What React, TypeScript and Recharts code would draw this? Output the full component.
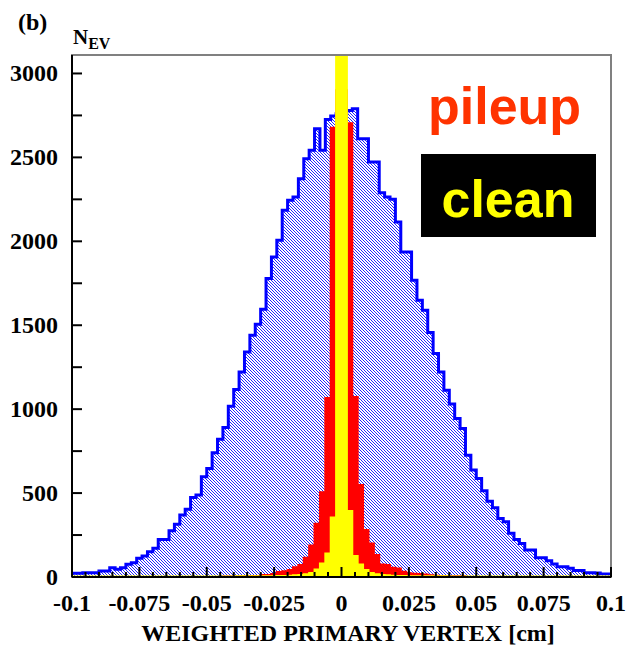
import React from 'react';
import { ComposedChart, Area, XAxis, YAxis, ReferenceArea } from 'recharts';

// histogram binning: 100 bins of 0.002 cm from -0.1 to 0.1
const BIN_LO = -0.1;
const BIN_W = 0.002;
const Y_MAX = 3110;

// all events (blue, hatched)
const allCounts = [
  22, 22, 26, 26, 26, 36, 36, 55, 46, 55,
  76, 85, 111, 125, 151, 171, 224, 224, 276, 314,
  369, 403, 474, 488, 597, 647, 740, 820, 891, 1018,
  1117, 1222, 1341, 1440, 1506, 1595, 1778, 1907, 2006, 2185,
  2244, 2264, 2373, 2492, 2542, 2671, 2542, 2726, 2746, 2760,
  2770, 2780, 2790, 2611, 2611, 2472, 2472, 2290, 2264, 2250,
  2115, 1936, 1936, 1768, 1649, 1589, 1456, 1331, 1222, 1113,
  1030, 944, 885, 726, 637, 587, 514, 452, 413, 349,
  329, 260, 224, 200, 161, 161, 115, 115, 97, 77,
  61, 61, 52, 38, 38, 26, 26, 24, 18, 18,
];

// pileup events (red)
const pileupCounts = [
  0, 0, 0, 0, 0, 0, 0, 0, 0, 0,
  0, 0, 0, 0, 0, 0, 0, 0, 0, 0,
  0, 0, 0, 0, 0, 0, 0, 0, 3, 3,
  3, 4, 4, 6, 6, 12, 12, 18, 30, 34,
  42, 58, 72, 115, 187, 317, 505, 1066, 2677, 2900,
  2900, 2704, 1073, 548, 280, 200, 131, 75, 71, 55,
  50, 32, 22, 20, 18, 15, 10, 8, 4, 4,
  4, 4, 4, 0, 0, 0, 0, 0, 0, 0,
  0, 0, 0, 0, 0, 0, 0, 0, 0, 0,
  0, 0, 0, 0, 0, 0, 0, 0, 0, 0,
];

// clean events (yellow)
const cleanCounts = [
  3, 3, 3, 3, 3, 3, 3, 3, 3, 3,
  3, 3, 3, 3, 3, 3, 3, 3, 3, 3,
  3, 3, 3, 3, 3, 3, 3, 3, 3, 3,
  4, 4, 4, 4, 4, 5, 5, 5, 6, 6,
  8, 10, 12, 16, 24, 45, 80, 140, 355, 3400,
  3400, 393, 125, 75, 42, 24, 16, 12, 10, 8,
  6, 6, 5, 5, 5, 4, 4, 4, 4, 4,
  3, 3, 3, 3, 3, 3, 3, 3, 3, 3,
  3, 3, 3, 3, 3, 3, 3, 3, 3, 3,
  3, 3, 3, 3, 3, 3, 3, 3, 3, 3,
];

const xMajor = [-0.1, -0.075, -0.05, -0.025, 0, 0.025, 0.05, 0.075, 0.1];
const xLabels = ['-0.1', '-0.075', '-0.05', '-0.025', '0', '0.025', '0.05', '0.075', '0.1'];
const yMajor = [0, 500, 1000, 1500, 2000, 2500, 3000];

const xTicks = Array.from({ length: 41 }, (_, i) => +(-0.1 + i * 0.005).toFixed(3));
const yTicks = Array.from({ length: 13 }, (_, i) => i * 250);

// step points at bin edges, last edge repeats the last bin
const data = allCounts.map((v, k) => ({
  x: +(BIN_LO + k * BIN_W).toFixed(4),
  all: v,
  pileup: pileupCounts[k],
  clean: cleanCounts[k],
}));
data.push({ x: 0.1, all: allCounts[99], pileup: pileupCounts[99], clean: cleanCounts[99] });

const SERIF = '"Liberation Serif", "Times New Roman", serif';
const SANS = '"Liberation Sans", Arial, sans-serif';

const XTick = (props: any) => {
  const { x, y, payload } = props;
  const idx = xMajor.findIndex((m) => Math.abs(m - payload.value) < 1e-9);
  const major = idx >= 0;
  return (
    <g>
      <line x1={x} x2={x} y1={y} y2={y - (major ? 10 : 5)} stroke="#000" strokeWidth={2} />
      {major && (
        <text x={x} y={y + 34} textAnchor="middle" fontFamily={SERIF} fontWeight="bold" fontSize={24} fill="#000">
          {xLabels[idx]}
        </text>
      )}
    </g>
  );
};

const YTick = (props: any) => {
  const { x, y, payload } = props;
  const major = yMajor.includes(payload.value);
  return (
    <g>
      <line x1={x} x2={x + 10} y1={y} y2={y} stroke="#000" strokeWidth={2} />
      {major && (
        <text x={x - 14} y={y + 8} textAnchor="end" fontFamily={SERIF} fontWeight="bold" fontSize={24} fill="#000">
          {payload.value}
        </text>
      )}
    </g>
  );
};

export default function App() {
  return (
    <div style={{ position: 'absolute', left: 0, top: 0, width: 627, height: 649, background: '#fff' }}>
      <svg width={0} height={0} style={{ position: 'absolute' }}>
        <defs>
          {/* pixel diagonal hatch, top-left to bottom-right */}
          <pattern id="hatch" patternUnits="userSpaceOnUse" x={0} y={0} width={3} height={3}>
            <rect width={3} height={3} fill="#fff" />
            <path d="M0,0h1v1h-1z M1,1h1v1h-1z M2,2h1v1h-1z" fill="#2424ff" shapeRendering="crispEdges" />
          </pattern>
        </defs>
      </svg>
      <ComposedChart width={627} height={649} data={data} margin={{ top: 55, right: 16, bottom: 0, left: 0 }}>
        <Area
          type="stepAfter"
          dataKey="all"
          stroke="#0000ff"
          strokeWidth={3}
          fill="url(#hatch)"
          fillOpacity={1}
          dot={false}
          activeDot={false}
          isAnimationActive={false}
        />
        <Area
          type="stepAfter"
          dataKey="pileup"
          stroke="#ff0000"
          strokeWidth={2}
          fill="#ff0000"
          fillOpacity={1}
          dot={false}
          activeDot={false}
          isAnimationActive={false}
        />
        <Area
          type="stepAfter"
          dataKey="clean"
          stroke="#ffff00"
          strokeWidth={2}
          fill="#ffff00"
          fillOpacity={1}
          dot={false}
          activeDot={false}
          isAnimationActive={false}
        />
        <ReferenceArea x1={-0.1} x2={0.1} y1={0} y2={Y_MAX} fill="none" fillOpacity={0} stroke="#808080" strokeWidth={2} />
        <XAxis
          dataKey="x"
          type="number"
          domain={[-0.1, 0.1]}
          ticks={xTicks}
          interval={0}
          height={72}
          tickSize={0}
          tickMargin={0}
          tickLine={false}
          axisLine={{ stroke: '#000', strokeWidth: 2 }}
          tick={<XTick />}
          allowDataOverflow
        />
        <YAxis
          type="number"
          domain={[0, Y_MAX]}
          ticks={yTicks}
          interval={0}
          width={72}
          tickSize={0}
          tickMargin={0}
          tickLine={false}
          axisLine={{ stroke: '#000', strokeWidth: 2 }}
          tick={<YTick />}
          allowDataOverflow
        />
      </ComposedChart>
      <svg width={627} height={649} style={{ position: 'absolute', left: 0, top: 0, pointerEvents: 'none' }}>
        <text x={18} y={30} fontFamily={SERIF} fontWeight="bold" fontSize={24} fill="#000">(b)</text>
        <text x={73} y={44} fontFamily={SERIF} fontWeight="bold" fontSize={21} fill="#000">
          N<tspan fontSize={16} dy={5}>EV</tspan>
        </text>
        <text x={428} y={124} fontFamily={SANS} fontWeight="bold" fontSize={52} fill="#ff3300">pileup</text>
        <rect x={421} y={154} width={175} height={83} fill="#000" />
        <text x={508} y={217} textAnchor="middle" fontFamily={SANS} fontWeight="bold" fontSize={52} fill="#ffff00">clean</text>
        <text x={348} y={641} textAnchor="middle" fontFamily={SERIF} fontWeight="bold" fontSize={24} fill="#000">
          WEIGHTED PRIMARY VERTEX [cm]
        </text>
      </svg>
    </div>
  );
}
